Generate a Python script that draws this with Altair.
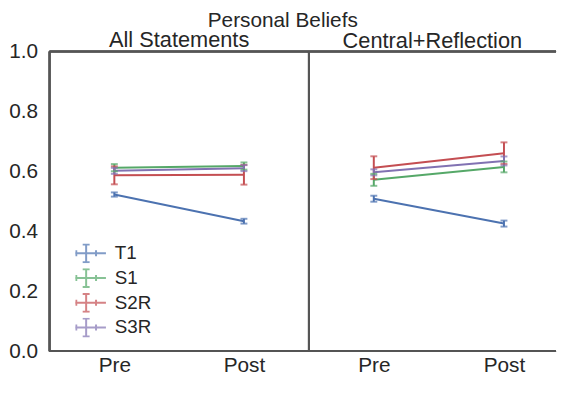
import altair as alt
import pandas as pd

groups = ["T1", "S1", "S2R", "S3R"]
colors = ["#4C72B0", "#55A868", "#C44E52", "#8172B2"]
times = ["Pre", "Post"]

# All Statements panel
all_pre = [0.523, 0.6125, 0.587, 0.602]
all_post = [0.434, 0.618, 0.589, 0.611]
all_pre_err = [0.007, 0.012, 0.030, 0.010]
all_post_err = [0.008, 0.012, 0.033, 0.010]

# Central+Reflection panel
cr_pre = [0.509, 0.572, 0.6125, 0.597]
cr_post = [0.426, 0.615, 0.661, 0.635]
cr_pre_err = [0.010, 0.020, 0.038, 0.010]
cr_post_err = [0.010, 0.018, 0.036, 0.015]

TXT = "#262626"
FRAME = "#555555"
FONT = "Liberation Sans"
H = 303


def make_df(pre, post, pre_err, post_err):
    rows = []
    for i, g in enumerate(groups):
        rows.append({"group": g, "time": "Pre", "tx": 0, "mean": pre[i],
                     "lo": pre[i] - pre_err[i], "hi": pre[i] + pre_err[i]})
        rows.append({"group": g, "time": "Post", "tx": 1, "mean": post[i],
                     "lo": post[i] - post_err[i], "hi": post[i] + post_err[i]})
    return pd.DataFrame(rows)


sym = "M-2,0H2M0,-0.9V0.9M-0.35,-0.9H0.35M-0.35,0.9H0.35M-1,-0.3V0.3M1,-0.3V0.3"

color_enc = alt.Color(
    "group:N",
    scale=alt.Scale(domain=groups, range=colors),
    legend=alt.Legend(
        title=None, orient="none", legendX=26, legendY=194,
        symbolType=sym, symbolSize=400, symbolStrokeWidth=2,
        symbolFillColor="transparent", labelFontSize=19, labelColor=TXT,
        labelOffset=18, rowPadding=5, clipHeight=20, padding=0, labelFont=FONT,
    ),
)


def frame_rule(base, **enc):
    return base.mark_rule(color=FRAME, strokeWidth=1.5).encode(**enc)


def panel(df, title, width, xmax, show_y, toff):
    x = alt.X("tx:Q",
              scale=alt.Scale(domain=[-0.5, xmax], nice=False, zero=False),
              axis=alt.Axis(title=None, ticks=False, domain=False, grid=False,
                            values=[0, 1], labelAngle=0,
                            labelExpr="datum.value == 0 ? 'Pre' : 'Post'",
                            labelFontSize=21, labelPadding=3, labelColor=TXT,
                            labelFont=FONT))
    if show_y:
        yaxis = alt.Axis(values=[0, 0.2, 0.4, 0.6, 0.8, 1.0], format=".1f",
                         ticks=False, grid=False, domain=False, labelFontSize=21,
                         labelPadding=12, title=None, labelColor=TXT, labelFont=FONT)
    else:
        yaxis = None
    yscale = alt.Scale(domain=[0, 1], nice=False)
    base = alt.Chart(df)
    line = base.mark_line(strokeWidth=2).encode(
        x=x, y=alt.Y("mean:Q", scale=yscale, axis=yaxis), color=color_enc)
    rule = base.mark_rule(strokeWidth=2).encode(
        x=x, y=alt.Y("lo:Q", scale=yscale), y2="hi:Q", color=color_enc)
    tlo = base.mark_tick(size=7, thickness=2, orient="horizontal").encode(
        x=x, y=alt.Y("lo:Q", scale=yscale), color=color_enc)
    thi = base.mark_tick(size=7, thickness=2, orient="horizontal").encode(
        x=x, y=alt.Y("hi:Q", scale=yscale), color=color_enc)
    frames = [
        frame_rule(base, x=alt.value(0), x2=alt.value(width), y=alt.value(0)),
        frame_rule(base, x=alt.value(0), x2=alt.value(width), y=alt.value(H)),
    ]
    if show_y:
        frames += [
            frame_rule(base, x=alt.value(0), y=alt.value(0), y2=alt.value(H)),
            frame_rule(base, x=alt.value(width), y=alt.value(0), y2=alt.value(H)),
        ]
    ch = alt.layer(*(frames + [line, rule, tlo, thi])).properties(
        width=width, height=H,
        title=alt.TitleParams(title, fontSize=22, fontWeight="normal", color=TXT,
                              font=FONT, offset=toff),
    )
    return ch


left = panel(make_df(all_pre, all_post, all_pre_err, all_post_err),
             "All Statements", 262, 1.5, True, -11.5)
right = panel(make_df(cr_pre, cr_post, cr_pre_err, cr_post_err),
              "Central+Reflection", 250, 1.4, False, -2.5)

chart = alt.hconcat(left, right, spacing=0, bounds="flush").properties(
    title=alt.TitleParams("Personal Beliefs", fontSize=21, fontWeight="normal",
                          color=TXT, font=FONT, anchor="middle", offset=-2),
    padding=0,
).configure(font=FONT).configure_view(stroke="transparent")

chart.save("out.html", embed_options={"renderer": "svg", "actions": False})
